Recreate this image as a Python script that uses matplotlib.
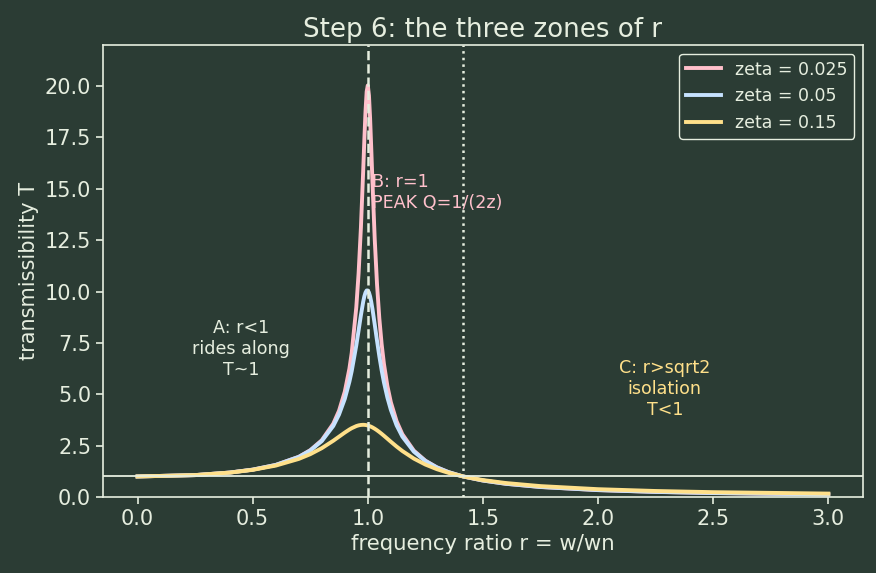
import numpy as np
import matplotlib.pyplot as plt

# frequency ratio and transmissibility values
r = [0.0, 0.25, 0.4, 0.5, 0.6, 0.7, 0.75, 0.8, 0.85, 0.875, 0.9, 0.92, 0.93,
     0.95, 0.96, 0.97, 0.98, 0.985, 0.99, 0.995, 1.0, 1.005, 1.01, 1.015,
     1.02, 1.03, 1.04, 1.05, 1.06, 1.07, 1.085, 1.1, 1.125, 1.15, 1.2, 1.25,
     1.3, 1.35, 1.414, 1.5, 1.6, 1.75, 2.0, 2.25, 2.5, 3.0]
T_025 = [1.0, 1.067, 1.190, 1.333, 1.562, 1.957, 2.279, 2.763, 3.565, 4.198,
         5.127, 6.243, 7.007, 9.231, 10.89, 13.10, 15.89, 17.40, 18.77, 19.73,
         20.03, 19.54, 18.42, 16.95, 15.39, 12.56, 10.35, 8.696, 7.446, 6.483,
         5.403, 4.613, 3.689, 3.058, 2.256, 1.770, 1.446, 1.215, 1.0, 0.801,
         0.642, 0.486, 0.335, 0.248, 0.192, 0.126]
T_05 = [1.0, 1.067, 1.190, 1.332, 1.559, 1.947, 2.259, 2.720, 3.458, 4.013,
        4.776, 5.609, 6.123, 7.379, 8.105, 8.845, 9.506, 9.765, 9.951, 10.05,
        10.05, 9.951, 9.760, 9.491, 9.162, 8.401, 7.606, 6.853, 6.176, 5.583,
        4.841, 4.244, 3.489, 2.940, 2.208, 1.749, 1.436, 1.211, 1.0, 0.803,
        0.646, 0.491, 0.339, 0.252, 0.196, 0.130]
T_15 = [1.0, 1.066, 1.187, 1.322, 1.528, 1.853, 2.084, 2.377, 2.738, 2.938,
        3.137, 3.284, 3.349, 3.452, 3.487, 3.507, 3.514, 3.511, 3.505, 3.494,
        3.480, 3.462, 3.441, 3.416, 3.388, 3.323, 3.248, 3.165, 3.076, 2.982,
        2.838, 2.692, 2.457, 2.240, 1.870, 1.580, 1.354, 1.177, 1.0, 0.825,
        0.680, 0.531, 0.381, 0.293, 0.236, 0.167]

series = [("zeta = 0.025", T_025, "#ffc0cb"),
          ("zeta = 0.05", T_05, "#c6e2ff"),
          ("zeta = 0.15", T_15, "#ffe08a")]

bg = "#2b3c34"
fg = "#e6eedf"

plt.rcParams.update({"text.color": fg, "axes.labelcolor": fg,
                     "xtick.color": fg, "ytick.color": fg,
                     "axes.edgecolor": fg})

fig = plt.figure(figsize=(8.76, 5.73), dpi=100, facecolor=bg)
ax = fig.add_axes([0.1176, 0.1326, 0.8674, 0.789])
ax.set_facecolor(bg)

for name, vals, col in series:
    ax.plot(r, vals, color=col, lw=2.8, label=name)

ax.axhline(1.0, color=fg, lw=1.3)
ax.axvline(1.0, color=fg, lw=1.8, ls="--")
ax.axvline(np.sqrt(2), color=fg, lw=1.8, ls=":")

ax.text(0.45, 7.2, "A: r<1\nrides along\nT~1", ha="center", va="center",
        fontsize=12.6, color=fg)
ax.text(1.02, 14.8, "B: r=1\nPEAK Q=1/(2z)", ha="left", va="center",
        fontsize=12.6, color="#ffc0cb")
ax.text(2.29, 5.27, "C: r>sqrt2\nisolation\nT<1", ha="center", va="center",
        fontsize=12.6, color="#ffe08a")

ax.set_ylim(0, 22)
ax.set_title("Step 6: the three zones of r", fontsize=18.8, color=fg)
ax.set_xlabel("frequency ratio r = w/wn", fontsize=15.3)
ax.set_ylabel("transmissibility T", fontsize=15)
ax.tick_params(labelsize=15, width=1.2, length=5)
for s in ax.spines.values():
    s.set_linewidth(1.2)

leg = ax.legend(loc="upper right", fontsize=12.5, facecolor=bg, edgecolor=fg,
                labelcolor=fg, framealpha=1)

fig.savefig("out.png", dpi=100, facecolor=bg)
